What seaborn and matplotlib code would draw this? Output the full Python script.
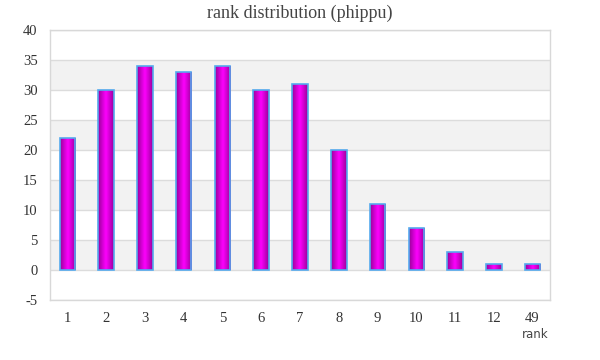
import numpy as np
import pandas as pd
import matplotlib
matplotlib.use("Agg")
import matplotlib.pyplot as plt
import seaborn as sns
from matplotlib.colors import LinearSegmentedColormap

ranks = ["1", "2", "3", "4", "5", "6", "7", "8", "9", "10", "11", "12", "49"]
counts = [22, 30, 34, 33, 34, 30, 31, 20, 11, 7, 3, 1, 1]
yticks = [-5, 0, 5, 10, 15, 20, 25, 30, 35, 40]

df = pd.DataFrame({"rank": ranks, "count": counts})

sns.set_style("white")
plt.rcParams["font.family"] = ["Liberation Serif", "DejaVu Serif"]

fig = plt.figure(figsize=(6, 3.6), dpi=100)
ax = fig.add_axes([50/600, 1-300/360, 500/600, 270/360])

sns.barplot(data=df, x="rank", y="count", order=ranks, width=0.4,
            color="#ee00ee", edgecolor="#55aaee", linewidth=1.2,
            saturation=1, ax=ax, zorder=2)

cmap = LinearSegmentedColormap.from_list("g", ["#9a009a", "#ff00ff", "#9a009a"])
grad = np.linspace(0, 1, 64).reshape(1, -1)
bars = [p for c in ax.containers for p in c]
for p in bars:
    x0, y0 = p.get_x(), p.get_y()
    w, h = p.get_width(), p.get_height()
    im = ax.imshow(grad, cmap=cmap, aspect="auto",
                   extent=[x0, x0 + w, y0, y0 + h], zorder=2.5,
                   interpolation="bicubic")
    im.set_clip_path(p)
    p.set_facecolor("none")
    p.set_zorder(3)

# alternating bands and grid
for lo in range(-5, 40, 5):
    if (lo // 5) % 2 == 0:  # 0-5, 10-15, 20-25, 30-35
        ax.axhspan(lo, lo + 5, facecolor="#f2f2f2", zorder=0, lw=0)
for y in yticks:
    ax.axhline(y, color="#dcdcdc", lw=1, zorder=0.5)

ax.set_xlim(-0.45, 12.45)
ax.set_ylim(-5, 40)
ax.set_yticks(yticks)
ax.set_yticklabels([str(v) for v in yticks])
ax.tick_params(axis="both", length=0, labelsize=10.5, colors="#333333")
ax.tick_params(axis="y", pad=9)
ax.tick_params(axis="x", pad=9)
ax.set_xlabel("")
ax.set_ylabel("")
for s in ax.spines.values():
    s.set_color("#d8d8d8")
    s.set_linewidth(1)

fig.text(300/600, 1-13/360, "rank distribution (phippu)", ha="center", va="center",
         fontsize=13, color="#444444")
fig.text(535/600, 1-335/360, "rank", ha="center", va="center",
         fontsize=8.5, color="#444444", family=["DejaVu Sans"])

fig.savefig("out.png", dpi=100)
